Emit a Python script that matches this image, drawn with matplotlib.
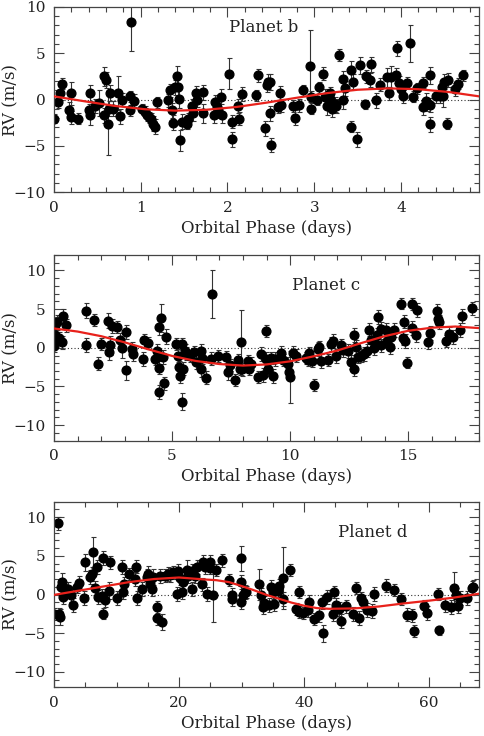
import matplotlib
matplotlib.use("Agg")
import matplotlib.pyplot as plt
from matplotlib.ticker import MultipleLocator

plt.rcParams['font.family'] = ['DejaVu Serif']
plt.rcParams['font.size'] = 10

# ---- Planet b ----
phase_b = [0.00, 0.05, 0.07, 0.09, 0.17, 0.20, 0.20, 0.28, 0.41, 0.40, 0.42, 0.47, 0.52, 0.58, 0.60,
           0.62, 0.58, 0.63, 0.65, 0.68, 0.74, 0.76, 0.78, 0.89, 0.88, 0.88, 0.92, 1.01, 1.05, 1.07,
           1.10, 1.12, 1.14, 1.16, 1.19, 1.32, 1.34, 1.36, 1.37, 1.39, 1.42, 1.43, 1.44, 1.45, 1.47,
           1.53, 1.55, 1.59, 1.60, 1.64, 1.65, 1.72, 1.72, 1.84, 1.86, 1.88, 1.89, 1.92, 1.94, 2.02,
           2.05, 2.05, 2.12, 2.13, 2.17, 2.33, 2.35, 2.43, 2.45, 2.47, 2.49, 2.50, 2.49, 2.58, 2.60,
           2.62, 2.76, 2.78, 2.83, 2.87, 2.95, 2.96, 2.96, 3.03, 3.06, 3.10, 3.13, 3.15, 3.18, 3.18,
           3.21, 3.24, 3.25, 3.29, 3.33, 3.33, 3.35, 3.42, 3.42, 3.45, 3.49, 3.53, 3.58, 3.60, 3.64,
           3.66, 3.71, 3.76, 3.84, 3.86, 3.88, 3.95, 3.94, 3.98, 4.00, 4.02, 4.07, 4.11, 4.14, 4.19,
           4.25, 4.25, 4.29, 4.30, 4.33, 4.33, 4.34, 4.41, 4.45, 4.47, 4.48, 4.50, 4.53, 4.54, 4.62,
           4.66, 4.72]
rv_b = [-2.05, -0.25, 0.70, 1.70, -1.10, 0.65, -1.90, -2.05, 0.70, -1.15, -1.70, -0.70, -0.40, 2.50, 2.10,
        -2.60, -1.70, -1.00, 0.70, -1.00, 0.70, -1.80, 0.00, 8.35, 0.35, -1.15, -0.15, -0.97, -1.30, -1.70,
        -1.90, -2.05, -2.60, -2.95, -0.30, -0.10, 1.00, -1.15, -2.50, 1.30, 2.50, 1.35, 0.10, -4.40, -2.40,
        -2.60, -2.05, -0.70, -1.50, 0.70, 0.00, 0.80, -1.50, -1.70, -0.25, -0.80, -1.15, 0.30, -1.70, 2.80,
        -2.40, -4.30, -0.70, -2.05, 0.60, 0.45, 2.60, -3.10, 1.55, 1.90, 1.90, -4.90, -1.50, -0.80, 0.70,
        -0.60, -0.70, -1.95, -0.60, 1.00, 3.60, 0.30, -0.97, 0.00, 1.30, 2.80, 0.30, -0.70, 0.65, 0.10,
        -0.97, -0.50, -0.70, 4.80, 2.25, 0.00, 1.20, -2.95, 3.15, 1.90, -4.30, 3.70, -0.50, 2.50, 2.10,
        3.80, -0.10, 1.60, 2.40, 0.65, 2.40, 5.50, 2.60, 1.80, 1.10, 0.35, 1.80, 6.05, 0.30, 1.20,
        1.80, -0.85, -0.15, -0.50, 2.60, -2.65, -0.60, 0.35, 0.35, 1.30, 0.35, 1.90, -2.60, 2.10, 1.10,
        1.70, 2.60]
err_b = [0.5, 0.7, 0.8, 0.6, 0.8, 1.2, 0.7, 0.6, 0.9, 0.7, 1.0, 0.8, 1.4, 1.0, 0.9,
         3.4, 0.8, 0.8, 0.9, 0.8, 1.8, 0.8, 0.7, 3.1, 0.6, 0.6, 0.7, 0.5, 0.6, 0.6,
         0.6, 0.6, 0.8, 0.8, 0.6, 0.7, 0.7, 0.8, 0.8, 0.8, 1.1, 1.0, 1.0, 1.1, 0.8,
         0.6, 0.6, 0.8, 0.8, 0.8, 0.8, 0.8, 1.0, 0.8, 0.7, 0.8, 0.8, 0.8, 0.8, 1.7,
         0.7, 0.8, 0.8, 0.7, 0.8, 0.6, 0.7, 0.8, 0.7, 0.8, 0.9, 0.8, 0.8, 0.7, 0.8,
         0.7, 0.7, 0.8, 0.7, 0.6, 3.9, 0.6, 0.6, 0.6, 0.6, 0.7, 0.8, 1.0, 0.7, 0.8,
         0.9, 0.8, 0.8, 0.6, 0.8, 1.0, 0.8, 0.6, 1.0, 0.8, 0.8, 0.9, 0.5, 0.7, 0.8,
         0.8, 0.8, 0.7, 1.0, 0.7, 1.2, 0.8, 0.8, 0.7, 0.8, 0.7, 0.6, 2.0, 0.6, 0.6,
         0.6, 0.8, 0.8, 0.7, 0.9, 0.8, 0.8, 0.7, 0.7, 0.8, 1.2, 0.8, 0.6, 0.8, 0.7,
         0.6, 0.6]
fit_x_b = [0.0, 0.35, 0.7, 1.05, 1.4, 1.75, 2.1, 2.45, 2.8, 3.15, 3.5, 3.85, 4.2, 4.55, 4.9]
fit_y_b = [0.34, -0.19, -0.69, -1.05, -1.20, -1.11, -0.81, -0.34, 0.19, 0.69, 1.05, 1.20, 1.11, 0.81, 0.34]

# ---- Planet c ----
phase_c = [0.00, 0.04, 0.08, 0.04, 0.14, 0.23, 0.32, 0.39, 0.50, 1.35, 1.35, 1.70, 1.87, 1.97, 2.27,
           2.34, 2.37, 2.44, 2.65, 2.79, 2.90, 3.03, 3.04, 3.35, 3.31, 3.75, 3.80, 3.99, 4.27, 4.37,
           4.45, 4.45, 4.45, 4.55, 4.62, 4.65, 4.73, 5.18, 5.25, 5.30, 5.32, 5.44, 5.46, 5.44, 5.54,
           5.60, 5.77, 5.92, 6.00, 6.24, 6.24, 6.28, 6.42, 6.66, 6.69, 6.94, 7.30, 7.37, 7.44, 7.65,
           7.79, 7.92, 7.97, 8.20, 7.86, 8.28, 8.35, 8.63, 8.77, 8.87, 8.96, 8.98, 9.05, 9.20, 9.27,
           9.38, 9.62, 9.69, 9.90, 9.94, 10.00, 10.11, 10.25, 10.68, 10.75, 10.82, 10.93, 11.03, 11.17, 11.24,
           11.31, 11.59, 11.73, 11.80, 11.94, 12.15, 12.22, 12.44, 12.58, 12.72, 12.72, 12.79, 12.86, 13.00, 13.14,
           13.24, 13.35, 13.42, 13.56, 13.56, 13.70, 13.74, 13.84, 13.84, 14.05, 14.12, 14.22, 14.26, 14.40, 14.69,
           14.76, 14.83, 14.87, 14.94, 15.15, 15.18, 15.32, 15.36, 15.82, 15.92, 16.22, 16.25, 16.29, 16.60, 16.74,
           16.88, 17.18, 17.30, 17.69]
rv_c = [0.20, 1.60, 1.30, 2.90, 3.30, 1.30, 0.70, 4.15, 2.90, 4.80, 0.40, 3.60, -2.05, 0.50, 3.50,
        -0.55, 0.30, 2.85, 2.70, 0.95, -0.05, -2.90, 2.00, -0.85, -0.10, -1.40, 0.95, 0.60, -1.40, -0.35,
        2.65, -2.55, -5.70, 3.85, -1.20, -4.60, 1.45, 0.50, -1.00, -2.50, -3.70, 0.50, -2.70, -7.00, -0.35,
        -0.75, -1.10, -0.55, -1.85, -0.35, -2.80, -1.30, -3.85, -1.40, 6.90, -1.10, -1.20, -3.10, -2.25, -4.20,
        -1.60, 0.70, -2.80, -1.70, -2.70, -2.70, -2.05, -3.75, -0.85, -3.55, 2.15, -1.40, -2.70, -1.30, -3.70,
        -1.40, -0.70, -1.55, -2.05, -3.10, -3.75, -0.70, -1.00, -1.30, -1.60, -0.70, -1.70, -4.85, -0.15, 0.10,
        -1.70, -1.60, 0.50, 0.85, -1.10, 0.30, -0.25, -0.45, -1.85, 1.60, -2.70, 0.10, -1.20, -1.00, -0.85,
        -0.35, 2.35, 1.00, 0.00, 1.00, 1.70, 4.00, 0.30, 2.45, 2.30, 0.85, 0.10, 1.35, 2.35, 5.70,
        1.30, 3.40, 0.85, -1.95, 5.70, 2.55, 1.60, 4.85, 0.70, 1.90, 4.70, 3.70, 3.30, 0.85, 1.80,
        1.35, 2.35, 4.15, 5.10]
err_c = [0.8, 0.9, 0.8, 0.9, 1.0, 0.8, 0.8, 0.9, 0.8, 1.0, 0.9, 0.8, 0.8, 0.8, 1.0,
         1.0, 1.2, 0.9, 0.8, 0.9, 1.3, 1.2, 0.9, 0.8, 0.9, 0.9, 0.8, 0.8, 0.8, 0.9,
         1.0, 0.9, 0.9, 1.8, 0.9, 0.8, 1.0, 0.8, 0.9, 0.8, 0.9, 0.8, 0.8, 1.1, 0.9,
         0.8, 0.8, 0.8, 0.9, 0.9, 1.0, 0.8, 0.8, 0.8, 3.1, 0.8, 0.8, 1.0, 0.8, 0.8,
         0.8, 4.2, 0.8, 0.8, 0.8, 0.8, 0.8, 0.8, 0.9, 0.9, 0.8, 0.8, 0.9, 0.8, 0.9,
         0.9, 0.9, 0.8, 0.8, 0.9, 3.4, 0.9, 0.8, 0.8, 0.8, 0.8, 0.8, 0.8, 0.9, 0.8,
         0.9, 0.8, 0.9, 0.9, 0.9, 0.8, 0.9, 0.9, 0.9, 0.9, 0.9, 0.9, 0.8, 0.9, 0.9,
         0.9, 0.8, 0.9, 0.9, 0.8, 0.9, 0.9, 0.9, 0.9, 0.9, 0.8, 0.9, 0.9, 0.9, 0.7,
         0.9, 0.9, 0.9, 0.7, 0.8, 0.9, 0.9, 0.9, 0.8, 0.9, 0.9, 0.9, 0.9, 0.8, 0.9,
         0.9, 0.9, 0.9, 0.8]
fit_x_c = [0, 1, 2, 3, 4, 5, 6, 7, 8, 9, 10, 11, 12, 13, 14, 15, 16, 17, 18]
fit_y_c = [2.5, 2.1, 1.5, 0.7, -0.2, -1.05, -1.7, -2.1, -2.3, -2.15, -1.75, -1.1, -0.35, 0.6, 1.5, 2.2, 2.6, 2.75, 2.55]

# ---- Planet d ----
phase_d = [0.00, 0.70, 0.85, 0.96, 1.10, 1.20, 1.50, 1.75, 2.30, 2.65, 2.98, 3.60, 4.05, 4.80, 4.95,
           5.75, 6.00, 6.20, 6.55, 6.90, 7.07, 7.60, 7.87, 7.87, 8.14, 8.93, 8.83, 10.00, 10.95, 11.06,
           11.17, 12.00, 12.90, 13.10, 13.30, 14.00, 14.80, 15.05, 15.40, 15.75, 15.85, 16.40, 16.40, 17.00, 17.35,
           17.70, 18.25, 18.60, 19.00, 19.60, 19.85, 20.10, 20.40, 20.65, 21.20, 21.40, 22.00, 22.10, 22.50, 22.80,
           23.60, 23.80, 24.10, 24.40, 24.90, 25.00, 25.40, 25.85, 26.90, 28.00, 28.50, 28.50, 29.95, 29.95, 29.95,
           30.50, 30.20, 30.74, 32.87, 33.10, 33.40, 33.67, 34.47, 34.73, 35.00, 35.26, 35.80, 36.06, 36.60, 36.60,
           37.77, 38.73, 39.25, 39.15, 39.79, 40.59, 40.85, 41.65, 42.45, 42.87, 42.97, 43.60, 44.56, 44.83, 45.10,
           45.60, 45.90, 46.70, 47.78, 48.30, 48.80, 49.10, 49.47, 50.15, 50.85, 51.20, 53.10, 54.40, 55.47, 56.50,
           57.23, 57.60, 59.20, 59.73, 61.50, 61.60, 62.55, 63.45, 64.00, 64.26, 64.70, 64.90, 66.10, 66.80, 67.10]
rv_d = [-2.50, 9.20, -2.50, -2.90, 1.00, 1.60, -0.35, 0.50, 0.75, -0.10, -1.30, 1.00, 1.45, -0.45, 4.15,
        2.25, 2.65, 5.45, 0.85, 3.60, -0.35, -0.15, -2.50, 4.70, -0.75, 4.15, 0.50, -0.45, 3.60, 0.30,
        1.35, 2.65, 2.00, 3.60, -0.45, 0.75, 2.25, 2.65, 1.35, 0.75, 2.25, -1.65, -3.00, 2.45, -3.55,
        2.45, 2.65, 2.55, 2.85, 0.10, 3.10, 2.15, 0.30, 1.60, 3.20, 2.45, 0.75, 3.00, 2.45, 3.50,
        1.30, 4.15, 3.60, 0.10, 4.15, 3.45, 0.00, 3.20, 4.40, 1.90, -0.10, -0.55, 4.70, 1.60, -1.00,
        0.30, 0.00, 0.30, 1.35, 0.00, -1.65, -1.10, -1.40, 0.95, 0.30, -1.20, 0.50, 1.15, 2.15, -0.55,
        3.20, -1.85, 0.30, -2.25, -2.40, -2.05, -1.00, -3.15, -2.70, -1.00, -5.00, -0.35, -2.50, 0.30, -1.40,
        -1.85, -3.45, -1.55, -2.50, 0.85, -3.00, -0.45, -1.00, -2.05, -2.15, 0.10, 1.15, 0.60, -0.55, -2.60,
        -2.70, -4.70, -1.55, -2.40, 0.10, -4.65, -1.30, -1.65, 0.85, 0.00, -1.55, -0.45, -0.45, 0.85, 1.00]
err_d = [0.8, 0.8, 0.8, 1.0, 1.0, 1.2, 0.9, 0.9, 0.9, 0.9, 0.9, 0.8, 0.9, 0.9, 1.1,
         0.9, 0.9, 2.0, 0.9, 0.9, 0.9, 0.8, 0.7, 0.9, 0.9, 0.8, 1.1, 0.9, 0.9, 0.9,
         0.9, 0.8, 0.9, 0.8, 0.9, 0.9, 1.1, 1.0, 0.9, 0.9, 1.0, 0.8, 0.9, 0.9, 1.0,
         0.8, 0.9, 0.9, 0.8, 0.9, 0.9, 0.9, 0.9, 0.9, 1.2, 0.9, 0.9, 0.9, 0.9, 0.9,
         0.8, 0.9, 0.9, 0.9, 0.9, 0.8, 3.6, 0.8, 0.8, 0.8, 0.9, 0.9, 1.6, 0.9, 0.9,
         0.9, 0.9, 0.8, 2.0, 0.9, 0.9, 0.9, 0.9, 0.9, 0.9, 0.9, 0.9, 0.9, 4.0, 0.9,
         0.8, 0.8, 0.8, 0.8, 0.8, 0.9, 0.9, 0.8, 0.9, 0.9, 1.1, 0.9, 0.9, 0.8, 0.9,
         0.9, 0.9, 0.8, 0.9, 0.8, 0.9, 0.8, 0.9, 0.9, 0.9, 0.9, 0.8, 0.8, 0.8, 0.8,
         0.8, 0.8, 0.9, 0.9, 0.8, 0.6, 0.9, 0.9, 2.0, 0.9, 0.9, 0.9, 0.9, 0.9, 0.9]
fit_x_d = [0, 4, 8, 12, 16, 20, 24, 26, 28, 30, 32, 34, 36, 38, 40, 42, 44, 48, 52, 56, 60, 64, 68]
fit_y_d = [-0.05, 0.5, 1.05, 1.6, 2.0, 2.2, 1.95, 1.85, 1.6, 1.1, 0.55, -0.05, -0.55, -1.05, -1.45, -1.75, -1.85,
           -1.8, -1.55, -1.15, -0.8, -0.4, 0.1]

panels = [
    dict(x=phase_b, y=rv_b, e=err_b, fx=fit_x_b, fy=fit_y_b, name="Planet b",
         xlim=(0, 4.9), ylim=(-10, 10), xmaj=1, xmin=0.2, ymaj=5, ymin=1, lab=(0.494, 0.89)),
    dict(x=phase_c, y=rv_c, e=err_c, fx=fit_x_c, fy=fit_y_c, name="Planet c",
         xlim=(0, 18), ylim=(-12, 12), xmaj=5, xmin=1, ymaj=5, ymin=1, lab=(0.64, 0.838)),
    dict(x=phase_d, y=rv_d, e=err_d, fx=fit_x_d, fy=fit_y_d, name="Planet d",
         xlim=(0, 68), ylim=(-12, 12), xmaj=20, xmin=5, ymaj=5, ymin=1, lab=(0.75, 0.836)),
]

W, H = 484, 736
tops = [6.7, 255, 501.7]
ph = 185.6

fig = plt.figure(figsize=(W / 100, H / 100), dpi=100)

for p, top in zip(panels, tops):
    ax = fig.add_axes([54 / W, 1 - (top + ph) / H, 425 / W, ph / H])
    ax.axhline(0, color='#333333', ls=(0, (1, 2)), lw=0.8, zorder=1)
    ax.errorbar(p['x'], p['y'], yerr=p['e'], fmt='o', color='black', ms=6.3,
                ecolor='#333333', elinewidth=0.8, capsize=1.8, capthick=0.8, zorder=2)
    ax.plot(p['fx'], p['fy'], color='#e8211b', lw=1.6, zorder=3)
    ax.set_xlim(*p['xlim'])
    ax.set_ylim(*p['ylim'])
    ax.xaxis.set_major_locator(MultipleLocator(p['xmaj']))
    ax.xaxis.set_minor_locator(MultipleLocator(p['xmin']))
    ax.yaxis.set_major_locator(MultipleLocator(p['ymaj']))
    ax.yaxis.set_minor_locator(MultipleLocator(p['ymin']))
    ax.tick_params(which='both', direction='in', top=True, right=True, color='#444444',
                   labelcolor='#222222', labelsize=11)
    ax.tick_params(which='major', length=7, width=0.8, pad=6)
    ax.tick_params(which='minor', length=3.5, width=0.8)
    for s in ax.spines.values():
        s.set_color('#444444')
        s.set_linewidth(0.9)
    ax.set_xlabel("Orbital Phase (days)", fontsize=12, color='#222222', labelpad=4)
    ax.set_ylabel("RV (m/s)", fontsize=12, color='#222222')
    ax.yaxis.set_label_coords(-0.082, 0.5)
    ax.text(p['lab'][0], p['lab'][1], p['name'], transform=ax.transAxes, ha='center', va='center',
            fontsize=12, color='#222222')

fig.savefig("out.png", dpi=100)
